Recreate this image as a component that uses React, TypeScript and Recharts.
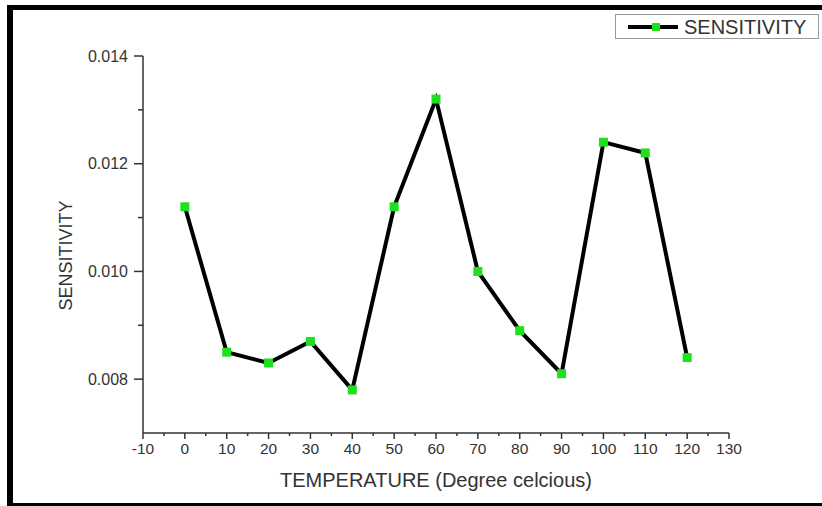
import { LineChart, Line, XAxis, YAxis, Legend } from 'recharts';

const temperatures = [0, 10, 20, 30, 40, 50, 60, 70, 80, 90, 100, 110, 120];
const sensitivity = [
  0.0112, 0.0085, 0.0083, 0.0087, 0.0078, 0.0112, 0.0132, 0.01, 0.0089, 0.0081, 0.0124,
  0.0122, 0.0084,
];
const xTicks = [
  -10, -5, 0, 5, 10, 15, 20, 25, 30, 35, 40, 45, 50, 55, 60, 65, 70, 75, 80, 85, 90, 95, 100,
  105, 110, 115, 120, 125, 130,
];
const yTicks = [0.008, 0.009, 0.01, 0.011, 0.012, 0.013, 0.014];

const data = temperatures.map((t, i) => ({ temp: t, value: sensitivity[i] }));

const FONT = '"Liberation Sans", Arial, sans-serif';
const AXIS = '#333';
const GREEN = '#1fe01f';

const XTick = (props: any) => {
  const { x, y, payload } = props;
  const major = payload.value % 10 === 0;
  return (
    <g>
      <line x1={x} y1={y} x2={x} y2={y + (major ? 6 : 3)} stroke={AXIS} strokeWidth={1.5} />
      {major && (
        <text x={x} y={y + 21} textAnchor="middle" fontSize={15.5} fontFamily={FONT} fill={AXIS}>
          {payload.value}
        </text>
      )}
    </g>
  );
};

const YTick = (props: any) => {
  const { x, y, payload } = props;
  const major = Math.round(payload.value * 1000) % 2 === 0;
  return (
    <g>
      <line x1={x - (major ? 9 : 5)} y1={y} x2={x} y2={y} stroke={AXIS} strokeWidth={1.5} />
      {major && (
        <text x={x - 15} y={y + 5.5} textAnchor="end" fontSize={16} fontFamily={FONT} fill={AXIS}>
          {payload.value.toFixed(3)}
        </text>
      )}
    </g>
  );
};

const SquareDot = (props: any) => {
  const { cx, cy } = props;
  if (cx == null || cy == null) return null;
  return <rect x={cx - 4.5} y={cy - 4.5} width={9} height={9} fill={GREEN} />;
};

const LegendBox = () => (
  <div
    style={{
      width: 204,
      height: 25,
      border: '1px solid #999',
      boxSizing: 'border-box',
      background: '#fff',
      display: 'flex',
      alignItems: 'center',
    }}
  >
    <svg width={68} height={22}>
      <line x1={12} y1={11} x2={62} y2={11} stroke="#000" strokeWidth={4} />
      <rect x={36} y={7} width={8} height={8} fill={GREEN} />
    </svg>
    <span style={{ fontFamily: FONT, fontSize: 20, color: AXIS, lineHeight: '22px' }}>
      SENSITIVITY
    </span>
  </div>
);

export default function App() {
  return (
    <div
      style={{
        position: 'absolute',
        left: 0,
        top: 0,
        width: 822,
        height: 506,
        overflow: 'hidden',
        background: '#fff',
      }}
    >
      <div
        style={{
          position: 'absolute',
          left: 7,
          top: 5,
          width: 900,
          height: 501,
          boxSizing: 'border-box',
          borderTop: '5px solid #000',
          borderLeft: '6px solid #000',
          borderBottom: '3px solid #000',
        }}
      />
      <div style={{ position: 'absolute', left: 0, top: 0 }}>
        <LineChart
          width={822}
          height={506}
          data={data}
          margin={{ top: 56, right: 93, bottom: 0, left: 0 }}
        >
          <XAxis
            dataKey="temp"
            type="number"
            domain={[-10, 130]}
            ticks={xTicks}
            interval={0}
            height={73}
            tickSize={0}
            tickMargin={0}
            tickLine={false}
            tick={<XTick />}
            axisLine={{ stroke: AXIS, strokeWidth: 1.5 }}
            label={{
              content: (p: any) => {
                const vb = p.viewBox;
                return (
                  <text
                    x={vb.x + vb.width / 2}
                    y={vb.y + 54}
                    textAnchor="middle"
                    fontSize={20}
                    fontFamily={FONT}
                    fill={AXIS}
                  >
                    TEMPERATURE (Degree celcious)
                  </text>
                );
              },
            }}
          />
          <YAxis
            type="number"
            domain={[0.007, 0.014]}
            ticks={yTicks}
            interval={0}
            width={143}
            tickSize={0}
            tickMargin={0}
            tickLine={false}
            tick={<YTick />}
            axisLine={{ stroke: AXIS, strokeWidth: 1.5 }}
            label={{
              content: (p: any) => {
                const vb = p.viewBox;
                const cx = 66;
                const cy = vb.y + vb.height / 2 + 11;
                return (
                  <text
                    x={cx}
                    y={cy}
                    transform={`rotate(-90 ${cx} ${cy})`}
                    textAnchor="middle"
                    dominantBaseline="central"
                    fontSize={18}
                    fontFamily={FONT}
                    fill={AXIS}
                  >
                    SENSITIVITY
                  </text>
                );
              },
            }}
          />
          <Legend
            layout="horizontal"
            verticalAlign="middle"
            content={() => <LegendBox />}
            wrapperStyle={{ position: 'absolute', left: 615, top: 14, width: 204 }}
          />
          <Line
            type="linear"
            dataKey="value"
            name="SENSITIVITY"
            stroke="#000"
            strokeWidth={4}
            dot={<SquareDot />}
            activeDot={false}
            isAnimationActive={false}
          />
        </LineChart>
      </div>
    </div>
  );
}
